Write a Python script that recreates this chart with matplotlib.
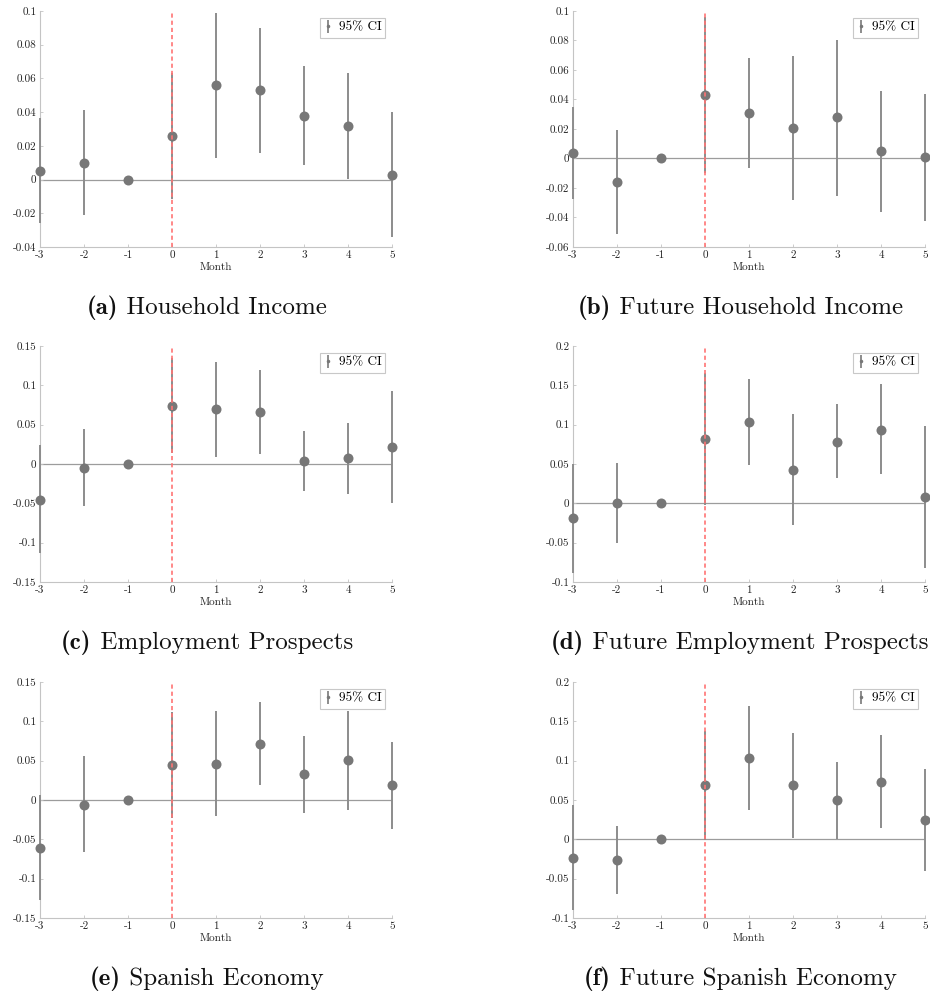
import numpy as np
import matplotlib
matplotlib.use("Agg")
import matplotlib.pyplot as plt
from matplotlib.ticker import MultipleLocator, FuncFormatter

plt.rcParams["font.family"] = "serif"
plt.rcParams["font.serif"] = ["cmr10", "DejaVu Serif"]
plt.rcParams["mathtext.fontset"] = "cm"
plt.rcParams["axes.unicode_minus"] = False
plt.rcParams["axes.formatter.use_mathtext"] = True

months = [-3, -2, -1, 0, 1, 2, 3, 4, 5]

# (a) Household Income
hh_income = [0.005, 0.010, 0.0, 0.026, 0.056, 0.053, 0.038, 0.032, 0.003]
hh_income_lo = [-0.026, -0.021, 0.0, -0.0115, 0.013, 0.0156, 0.0085, 0.0004, -0.034]
hh_income_hi = [0.0364, 0.0413, 0.0, 0.0631, 0.0989, 0.090, 0.0673, 0.0633, 0.040]

# (b) Future Household Income
fut_income = [0.004, -0.016, 0.0, 0.043, 0.031, 0.021, 0.028, 0.005, 0.001]
fut_income_lo = [-0.0275, -0.0514, 0.0, -0.0098, -0.0064, -0.0281, -0.0252, -0.036, -0.0421]
fut_income_hi = [0.0351, 0.0191, 0.0, 0.0957, 0.068, 0.0697, 0.0806, 0.046, 0.0437]

# (c) Employment Prospects
emp = [-0.0456, -0.0045, 0.0, 0.074, 0.070, 0.066, 0.0036, 0.007, 0.022]
emp_lo = [-0.1135, -0.0533, 0.0, 0.0134, 0.0095, 0.0129, -0.0337, -0.0384, -0.049]
emp_hi = [0.0236, 0.0448, 0.0, 0.1343, 0.130, 0.119, 0.0414, 0.052, 0.0923]

# (d) Future Employment Prospects
fut_emp = [-0.0181, 0.0005, 0.0, 0.0816, 0.1037, 0.0426, 0.0786, 0.0935, 0.0078]
fut_emp_lo = [-0.089, -0.050, 0.0, -0.0024, 0.0486, -0.0274, 0.032, 0.0367, -0.0826]
fut_emp_hi = [0.0506, 0.0515, 0.0, 0.1656, 0.1584, 0.113, 0.1258, 0.1512, 0.0977]

# (e) Spanish Economy
econ = [-0.0608, -0.0058, 0.0, 0.0446, 0.0463, 0.0715, 0.0326, 0.0506, 0.0186]
econ_lo = [-0.127, -0.0664, 0.0, -0.0224, -0.0198, 0.019, -0.0164, -0.0122, -0.0365]
econ_hi = [0.0066, 0.0553, 0.0, 0.1116, 0.1137, 0.1252, 0.0817, 0.1137, 0.0736]

# (f) Future Spanish Economy
fut_econ = [-0.0236, -0.0266, 0.0, 0.0686, 0.1036, 0.0686, 0.0494, 0.0733, 0.0246]
fut_econ_lo = [-0.0901, -0.070, 0.0, -0.0006, 0.037, 0.0016, 0.0, 0.0144, -0.0407]
fut_econ_hi = [0.0438, 0.0165, 0.0, 0.1373, 0.170, 0.1352, 0.0985, 0.1322, 0.089]

panels = [
    ("(a)", "Household Income", hh_income, hh_income_lo, hh_income_hi, (-0.04, 0.1), 0.02),
    ("(b)", "Future Household Income", fut_income, fut_income_lo, fut_income_hi, (-0.06, 0.1), 0.02),
    ("(c)", "Employment Prospects", emp, emp_lo, emp_hi, (-0.15, 0.15), 0.05),
    ("(d)", "Future Employment Prospects", fut_emp, fut_emp_lo, fut_emp_hi, (-0.1, 0.2), 0.05),
    ("(e)", "Spanish Economy", econ, econ_lo, econ_hi, (-0.15, 0.15), 0.05),
    ("(f)", "Future Spanish Economy", fut_econ, fut_econ_lo, fut_econ_hi, (-0.1, 0.2), 0.05),
]

W, H = 930, 997
fig = plt.figure(figsize=(W / 100, H / 100), dpi=100)

col_left = [40, 573]
row_top = [11, 346, 682]
ax_w, ax_h = 352, 236
caption_y = [308, 643, 979]
caption_dx = -9

spine_col = "#c4c4c4"
bar_col = "#8c8c8c"
pt_col = "#777777"


def fmt(v, _pos):
    v = round(v, 4)
    if abs(v) < 1e-9:
        return "0"
    return "%g" % v


captions = []
for i, (tag, name, est, lo, hi, ylim, step) in enumerate(panels):
    r, c = divmod(i, 2)
    left = col_left[c] / W
    bottom = 1 - (row_top[r] + ax_h) / H
    ax = fig.add_axes([left, bottom, ax_w / W, ax_h / H])

    est = np.asarray(est)
    yerr = np.vstack([est - np.asarray(lo), np.asarray(hi) - est])

    ax.axhline(0, color="#9c9c9c", lw=0.9, zorder=1)
    eb = ax.errorbar(months, est, yerr=yerr, fmt="o", color=pt_col,
                     ecolor=bar_col, elinewidth=1.4, capsize=2.2, capthick=1.0,
                     markersize=7.2, markeredgewidth=0, label="95% CI", zorder=3)
    data_line, caplines, barcols = eb.lines
    data_line.set_clip_on(False)
    for cl in caplines:
        cl.set_clip_on(False)
    for bc in barcols:
        bc.set_clip_on(False)
    ax.axvline(0, color="#ff7474", lw=1.2, ls=(0, (2.5, 1.8)), zorder=4)

    ax.set_xlim(-3, 5)
    ax.set_ylim(*ylim)
    ax.xaxis.set_major_locator(MultipleLocator(1))
    ax.yaxis.set_major_locator(MultipleLocator(step))
    ax.yaxis.set_major_formatter(FuncFormatter(fmt))
    ax.xaxis.set_major_formatter(FuncFormatter(fmt))

    for s in ("top", "right"):
        ax.spines[s].set_visible(False)
    for s in ("left", "bottom"):
        ax.spines[s].set_color(spine_col)
        ax.spines[s].set_linewidth(0.8)
    ax.tick_params(direction="in", length=2.5, width=0.6, color=spine_col,
                   labelsize=8, labelcolor="#222222", pad=2.5)
    ax.set_xlabel("Month", fontsize=8, labelpad=1.5, color="#222222")

    leg = ax.legend(loc="upper right", fontsize=9.5, markerscale=0.35,
                    handlelength=0.6, handletextpad=0.5, borderpad=0.3,
                    fancybox=False, framealpha=1, edgecolor="#c8c8c8",
                    borderaxespad=0.5)
    leg.get_frame().set_linewidth(0.8)

    # caption: bold panel tag followed by the regular title
    xc = col_left[c] + ax_w / 2 + caption_dx
    yc = 1 - caption_y[r] / H
    t_tag = fig.text(0, yc, tag, family="cmb10", fontsize=18,
                     ha="left", va="center", color="#111111")
    t_name = fig.text(0, yc, " " + name, family="cmr10", fontsize=18,
                      ha="left", va="center", color="#111111")
    captions.append((xc, t_tag, t_name))

fig.canvas.draw()
renderer = fig.canvas.get_renderer()
for xc, t_tag, t_name in captions:
    w1 = t_tag.get_window_extent(renderer).width
    w2 = t_name.get_window_extent(renderer).width
    x0 = xc - (w1 + w2) / 2
    x0 = min(x0, W - 2 - (w1 + w2))
    t_tag.set_x(x0 / W)
    t_name.set_x((x0 + w1) / W)

fig.savefig("out.png", dpi=100)
